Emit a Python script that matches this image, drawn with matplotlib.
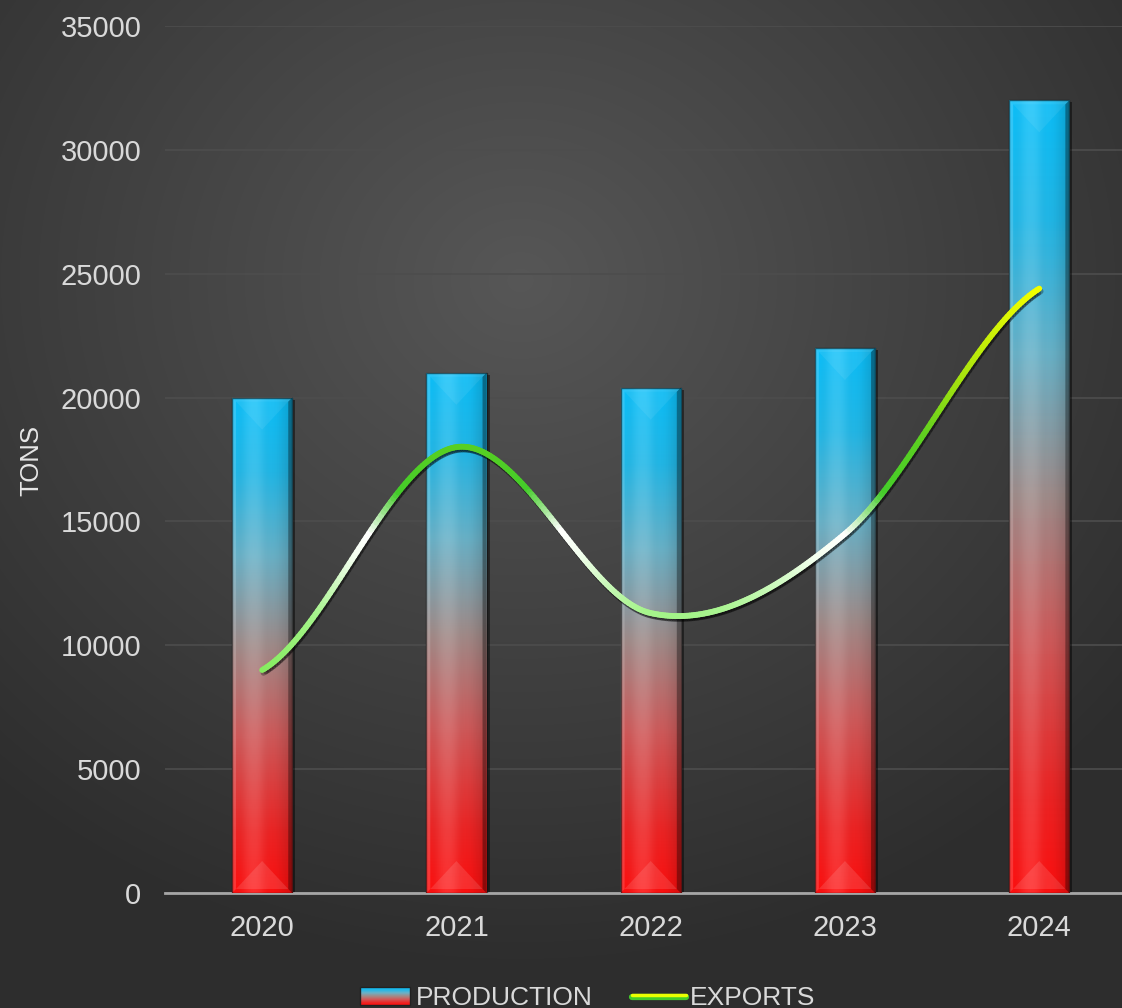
import numpy as np
import matplotlib
matplotlib.use("Agg")
import matplotlib.pyplot as plt
from matplotlib.colors import LinearSegmentedColormap
from matplotlib.collections import LineCollection
from matplotlib.patches import Rectangle, Polygon
import matplotlib.patheffects as pe

years = ["2020", "2021", "2022", "2023", "2024"]
production = [20000, 21000, 20400, 22000, 32000]
exports = [9000, 18000, 11300, 14500, 24400]

plt.rcParams['font.family'] = ['Liberation Sans', 'DejaVu Sans']

fig = plt.figure(figsize=(11.22, 10.08), dpi=100)

# radial background
bg = fig.add_axes([0, 0, 1, 1], zorder=-10)
yy, xx = np.mgrid[0:1008, 0:1122]
r = np.sqrt(((xx - 520) / 900.0) ** 2 + ((yy - 280) / 800.0) ** 2)
r = np.clip(r / 0.85, 0, 1)
shade = 0.34 - 0.16 * r
bg.imshow(np.dstack([shade] * 3), extent=[0, 1, 0, 1], aspect='auto', origin='upper')
bg.axis('off')

ax = fig.add_axes([165 / 1122, 1 - 893 / 1008, 1 - 165 / 1122, (893 - 26) / 1008])
ax.patch.set_alpha(0)
ax.set_xlim(-0.5, 4.426)
ax.set_ylim(0, 35000)
ax.set_yticks(range(0, 35001, 5000))
ax.set_xticks(range(len(years)))
ax.set_xticklabels(years)
ax.tick_params(colors='#d9d9d9', labelsize=21, length=0, pad=15)
ax.tick_params(axis='y', pad=17)
for s in ['top', 'right', 'left']:
    ax.spines[s].set_visible(False)
ax.spines['bottom'].set_color('#a6a6a6')
ax.spines['bottom'].set_linewidth(2)
ax.grid(axis='y', color='#4d4d4d', linewidth=1.2)
ax.set_axisbelow(True)
fig.text(31 / 1122, 1 - 461 / 1008, 'TONS', rotation=90, color='#e6e6e6',
         fontsize=18.5, ha='center', va='center')

bar_cmap = LinearSegmentedColormap.from_list('bar', [
    (0.0, '#ff1010'), (0.12, '#ee2424'), (0.32, '#cf5b5b'), (0.5, '#a08c8a'),
    (0.68, '#6ab2c8'), (0.85, '#22b8e8'), (1.0, '#0cc0fa')])

w = 0.31
px = 4.926 / 957.0          # data units per pixel (x)
py = 35000 / 867.0          # data units per pixel (y)
grad = np.linspace(0, 1, 256).reshape(-1, 1)
for i, v in enumerate(production):
    x0, x1 = i - w / 2, i + w / 2
    # shadow
    ax.add_patch(Rectangle((x0 + 3 * px, 0), w, v - 2 * py, color='black',
                           alpha=0.45, zorder=2, lw=0))
    im = ax.imshow(grad, cmap=bar_cmap, extent=[x0, x1, 0, v], origin='lower',
                   aspect='auto', zorder=3, interpolation='bilinear')
    rect = Rectangle((x0, 0), w, v, transform=ax.transData, fc='none', lw=0)
    ax.add_patch(rect)
    im.set_clip_path(rect)
    # horizontal gloss
    hs = np.array([[0.0, 0.08, 0.14, 0.08, 0.0, -0.05, -0.15]])
    ax.imshow(np.dstack([0 * hs + (hs > 0), 0 * hs + (hs > 0), 0 * hs + (hs > 0), np.abs(hs)]),
              extent=[x0, x1, 0, v], aspect='auto', zorder=3.5, interpolation='bicubic').set_clip_path(rect)
    # bevel edges
    b = 4 * px
    bv = 4 * py
    tri = 32 * py
    ax.add_patch(Polygon([[x0, 0], [x0 + b, bv], [x0 + b, v - bv], [x0, v]],
                         fc='white', alpha=0.15, lw=0, zorder=4))
    ax.add_patch(Polygon([[x1, 0], [x1 - b, bv], [x1 - b, v - bv], [x1, v]],
                         fc='black', alpha=0.35, lw=0, zorder=4))
    ax.add_patch(Polygon([[x0, v], [x1, v], [x1 - b, v - bv], [x0 + b, v - bv]],
                         fc='white', alpha=0.12, lw=0, zorder=4))
    ax.add_patch(Polygon([[x0 + b, v - bv], [x1 - b, v - bv], [i, v - tri]],
                         fc='white', alpha=0.07, lw=0, zorder=4))
    ax.add_patch(Polygon([[x0 + b, bv], [x1 - b, bv], [i, tri]],
                         fc='white', alpha=0.12, lw=0, zorder=4))
    ax.add_patch(Rectangle((x0, 0), w, v, fc='none', ec='#101010', lw=1.0,
                           alpha=0.6, zorder=4.5))

# smooth exports line (Catmull-Rom)
xs = np.arange(len(exports), dtype=float)
ys = np.array(exports, dtype=float)
P = np.concatenate([[ys[0]], ys, [ys[-1]]])
cx, cy = [], []
for k in range(len(ys) - 1):
    t = np.linspace(0, 1, 80, endpoint=(k == len(ys) - 2))
    p0, p1, p2, p3 = P[k], P[k + 1], P[k + 2], P[k + 3]
    m1, m2 = (p2 - p0) / 2, (p3 - p1) / 2
    h00 = 2 * t**3 - 3 * t**2 + 1
    h10 = t**3 - 2 * t**2 + t
    h01 = -2 * t**3 + 3 * t**2
    h11 = t**3 - t**2
    cy.append(h00 * p1 + h10 * m1 + h01 * p2 + h11 * m2)
    cx.append(xs[k] + t)
cx = np.concatenate(cx)
cy = np.concatenate(cy)

line_cmap = LinearSegmentedColormap.from_list('ln', [
    (0.0, '#86ec60'), (0.15, '#a6f48c'), (0.30, '#f4fff0'), (0.36, '#ffffff'),
    (0.47, '#44cc2a'), (0.62, '#5ed020'), (0.75, '#9ee010'), (1.0, '#f2ff00')])
pts = np.column_stack([cx, cy]).reshape(-1, 1, 2)
segs = np.concatenate([pts[:-1], pts[1:]], axis=1)
vals = (0.5 * (cy[:-1] + cy[1:]) - 9000) / (24400 - 9000)
lc = LineCollection(segs, cmap=line_cmap, linewidths=4.2, capstyle='round',
                    zorder=6, path_effects=[pe.SimpleLineShadow(offset=(1, -2), alpha=0.3,
                                                                shadow_color='black'),
                                            pe.Normal()])
lc.set_array(np.clip(vals, 0, 1))
lc.set_clim(0, 1)
ax.add_collection(lc)

# legend (manual)
lg = fig.add_axes([0, 0, 1, 1], zorder=10)
lg.set_xlim(0, 1122)
lg.set_ylim(1008, 0)
lg.axis('off')
lg.imshow(np.linspace(0, 1, 40).reshape(-1, 1)[::-1], cmap=bar_cmap, extent=[360, 410, 1005, 987],
          aspect='auto', interpolation='bilinear')
lg.add_patch(Rectangle((360, 987), 50, 18, fc='none', ec='#222222', lw=1))
lg.text(416, 1005, 'PRODUCTION', color='#d9d9d9', fontsize=19, va='baseline')
lg.plot([632, 686], [997, 997], color='#44cc2a', lw=4.5, solid_capstyle='round')
lg.plot([632, 686], [995, 995], color='#eaff00', lw=2.5, solid_capstyle='round')
lg.text(690, 1005, 'EXPORTS', color='#d9d9d9', fontsize=19, va='baseline')
lg.set_xlim(0, 1122)
lg.set_ylim(1008, 0)

fig.savefig('out.png', dpi=100)
